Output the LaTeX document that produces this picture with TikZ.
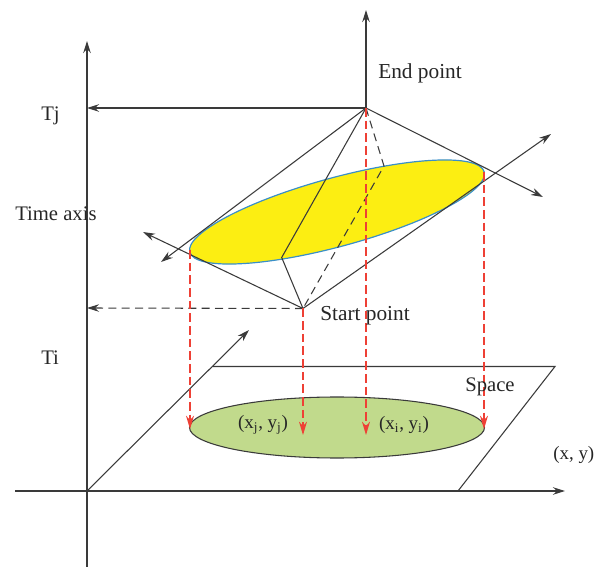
\documentclass[tikz,border=0pt]{standalone}
\usepackage{fontspec}
\setmainfont{Liberation Serif}
\usetikzlibrary{arrows.meta,shapes.geometric}
\definecolor{ax}{HTML}{3A3A3A}
\definecolor{redl}{HTML}{EE4035}
\definecolor{yel}{HTML}{FCEE12}
\definecolor{blu}{HTML}{3A8FC8}
\definecolor{grn}{HTML}{C1DA8C}
\tikzset{
 ln/.style={draw=ax,line width=0.8pt},
 arr/.style={ln,-{Stealth[length=9pt,width=5.6pt]}},
 dsh/.style={ln,dash pattern=on 6pt off 4pt},
 rd/.style={draw=redl,line width=0.9pt,dash pattern=on 6.5pt off 3pt,-{Stealth[length=10pt,width=6pt,color=redl]}},
 lab/.style={inner sep=0pt,text=black!85,font=\fontsize{15.5}{18}\selectfont},
 labb/.style={lab,font=\fontsize{16}{18}\selectfont},
 labs/.style={lab,font=\fontsize{14.2}{18}\selectfont},
}
\begin{document}
\begin{tikzpicture}[x=0.75pt,y=-0.75pt]
\useasboundingbox (0,0) rectangle (594,567);
% named points
\coordinate (O) at (87,491);
\coordinate (Ybot) at (87,567);
\coordinate (Ytop) at (87,41);
\coordinate (Xl) at (15,491);
\coordinate (Xr) at (565,491);
\coordinate (Dg) at (249,330);
\coordinate (P1) at (213,366.5);
\coordinate (P2) at (555,366.5);
\coordinate (P3) at (458,491);
\coordinate (E) at (366,108);
\coordinate (Etop) at (366,10);
\coordinate (Tj) at (87,108);
\coordinate (S) at (303,308.5);
\coordinate (Ti) at (87,308);
\coordinate (Ela) at (161,262);
\coordinate (Era) at (543,197);
\coordinate (Sra) at (551,134);
\coordinate (Sla) at (143,232);
\coordinate (A) at (281.7,257.5);
\coordinate (B) at (384,166);
\coordinate (Rl) at (190,250);
\coordinate (Rr) at (484,172);
\coordinate (Rlb) at (190,429);
\coordinate (Rsb) at (303,435);
\coordinate (Rcb) at (366,435);
\coordinate (Rrb) at (484,429);
% ellipses
\node[ellipse,draw=ax,line width=0.8pt,fill=grn,inner sep=0pt,minimum width=221.25pt,minimum height=45.75pt] (G) at (337,427.5) {};
\node[ellipse,draw=blu,line width=0.9pt,fill=yel,inner sep=0pt,minimum width=228.9pt,minimum height=51.45pt,rotate=15.26] (Y) at (337,212) {};
% axes and plane
\draw[arr] (Ybot) -- (Ytop);
\draw[arr] (Xl) -- (Xr);
\draw[arr] (O) -- (Dg);
\draw[ln] (P1) -- (P2) -- (P3);
\draw[arr] (E) -- (Tj);
\draw[arr] (E) -- (Etop);
\draw[dsh,-{Stealth[length=9pt,width=5.6pt]}] (S) -- (Ti);
% cone
\draw[arr] (E) -- (Ela);
\draw[arr] (E) -- (Era);
\draw[arr] (S) -- (Sra);
\draw[arr] (S) -- (Sla);
\draw[ln] (E) -- (A) -- (S);
\draw[dsh] (E) -- (B) -- (S);
% projections
\draw[rd] (Rl) -- (Rlb);
\draw[rd] (S) -- (Rsb);
\draw[rd] (E) -- (Rcb);
\draw[rd] (Rr) -- (Rrb);
% labels
\node[labb,anchor=west] (tend) at (378,73) {End point};
\node[labb,anchor=west] (tstart) at (320,316) {Start point};
\node[lab,anchor=west] (ttj) at (41,116) {Tj};
\node[lab,anchor=west] (tti) at (41,358) {Ti};
\node[lab,anchor=west] (taxis) at (15,214) {Time axis};
\node[lab,anchor=west] (tspace) at (465,387) {Space};
\node[labs,anchor=west] (txy) at (553,455) {(x, y)};
\node[labs] (tj) at (263,425) {(x\textsubscript{j}, y\textsubscript{j})};
\node[labs] (ti) at (404,425) {(x\textsubscript{i}, y\textsubscript{i})};
\end{tikzpicture}
\end{document}
